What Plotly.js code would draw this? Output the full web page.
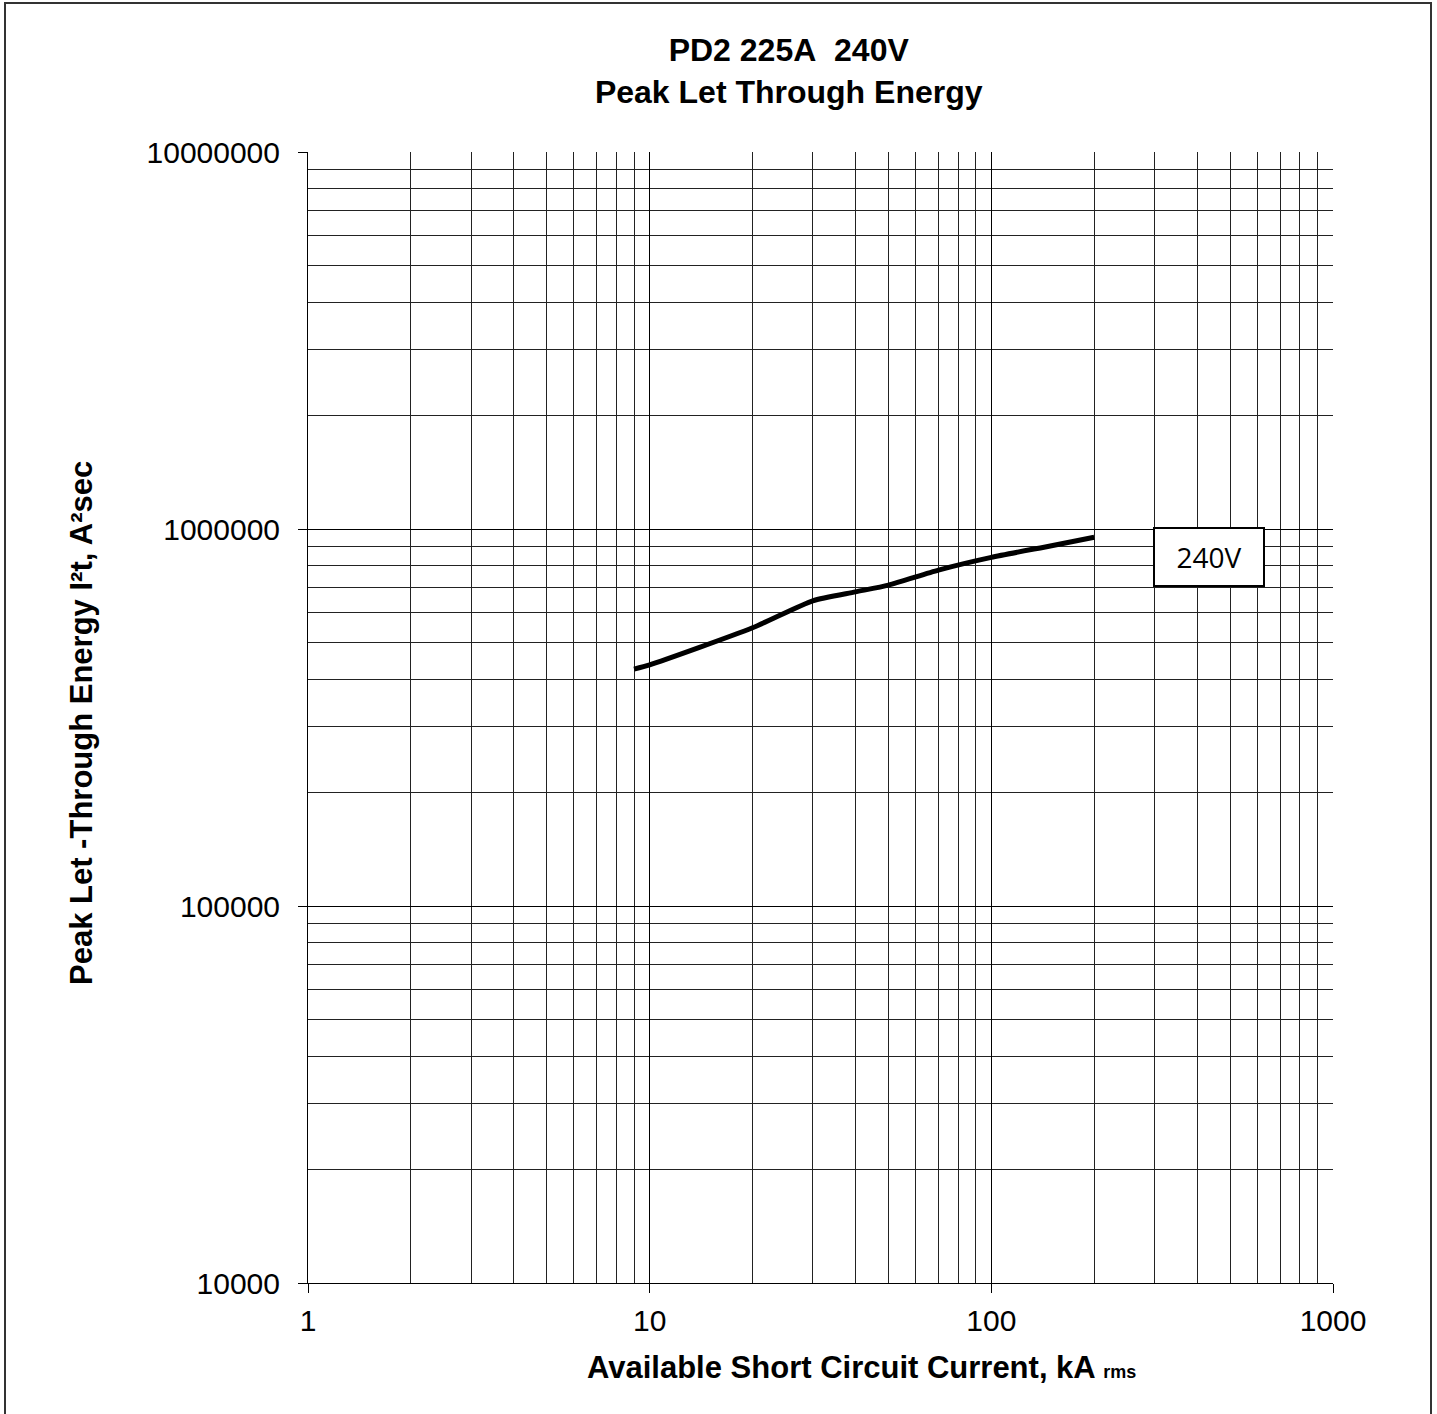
<!DOCTYPE html>
<html>
<head>
<meta charset="utf-8">
<script src="https://cdn.plot.ly/plotly-3.0.1.min.js"></script>
<style>html,body{margin:0;padding:0;background:#fff;}#chart{width:1437px;height:1414px;}</style>
</head>
<body>
<div id="chart"></div>
<script>
// Data
const currentKA = [9, 10, 20, 30, 40, 50, 70, 100, 150, 200];
const energyI2t = [425000, 436000, 547000, 645000, 681000, 710000, 778000, 841000, 903000, 951000];
const seriesName = '240V';

const xMajor = [1, 10, 100, 1000];
const xMajorText = ['1', '10', '100', '1000'];
const yMajor = [10000, 100000, 1000000, 10000000];
const yMajorText = ['10000', '100000', '1000000', '10000000'];
const minorMult = [2, 3, 4, 5, 6, 7, 8, 9];

const xMinor = [];
[1, 10, 100].forEach(d => minorMult.forEach(m => xMinor.push(d * m)));
const yMinor = [];
[10000, 100000, 1000000].forEach(d => minorMult.forEach(m => yMinor.push(d * m)));

const FONT = 'Liberation Sans, Arial, sans-serif';

const trace = {
  x: currentKA,
  y: energyI2t,
  type: 'scatter',
  mode: 'lines',
  name: seriesName,
  line: {color: '#000', width: 5, shape: 'spline', smoothing: 0.6},
  showlegend: false
};

const layout = {
  width: 1437,
  height: 1414,
  paper_bgcolor: '#fff',
  plot_bgcolor: '#fff',
  margin: {l: 308, r: 104, t: 152, b: 131, pad: 0},
  showlegend: false,
  font: {family: FONT, color: '#000'},
  title: {
    text: 'PD2 225A\u00a0\u00a0240V<br>Peak Let Through Energy',
    font: {family: FONT, size: 32, color: '#000', weight: 'bold'},
    xref: 'paper', x: 0.469, xanchor: 'center',
    yref: 'container', y: 1 - 61 / 1414, yanchor: 'top'
  },
  xaxis: {
    type: 'log',
    range: [0, 3],
    tickmode: 'array', tickvals: xMajor, ticktext: xMajorText,
    ticks: 'outside', ticklen: 9, tickwidth: 1, tickcolor: '#000',
    tickfont: {family: FONT, size: 30, color: '#000'},
    ticklabelstandoff: 2,
    showgrid: true, gridcolor: '#000', gridwidth: 1,
    minor: {tickmode: 'array', tickvals: xMinor, showgrid: true, gridcolor: '#222', gridwidth: 1, ticks: ''},
    showline: true, linecolor: '#000', linewidth: 1,
    zeroline: false
  },
  yaxis: {
    type: 'log',
    range: [4, 7],
    tickmode: 'array', tickvals: yMajor, ticktext: yMajorText,
    ticks: 'outside', ticklen: 9, tickwidth: 1, tickcolor: '#000',
    tickfont: {family: FONT, size: 30, color: '#000'},
    ticklabelstandoff: 12,
    showgrid: true, gridcolor: '#000', gridwidth: 1,
    minor: {tickmode: 'array', tickvals: yMinor, showgrid: true, gridcolor: '#222', gridwidth: 1, ticks: ''},
    showline: true, linecolor: '#000', linewidth: 1,
    zeroline: false
  },
  annotations: [{
    text: seriesName,
    xref: 'paper', yref: 'paper',
    x: (1209 - 308) / 1025, y: (1283 - 557) / 1131,
    xanchor: 'center', yanchor: 'middle',
    showarrow: false,
    width: 106, height: 54,
    bgcolor: '#fff',
    bordercolor: '#000', borderwidth: 2, borderpad: 1,
    font: {family: 'Open Sans, sans-serif', size: 28, color: '#000'}
  }, {
    text: '<b>Available Short Circuit Current, kA <span style="font-size:18px">rms</span></b>',
    xref: 'paper', yref: 'paper',
    x: (861 - 308) / 1025, y: (1283 - 1367) / 1131,
    xanchor: 'center', yanchor: 'middle',
    showarrow: false,
    font: {family: FONT, size: 31, color: '#000'}
  }, {
    text: '<b>Peak Let -Through Energy I²t, A²sec</b>',
    xref: 'paper', yref: 'paper',
    x: (82 - 308) / 1025, y: (1283 - 723) / 1131,
    xanchor: 'center', yanchor: 'middle',
    textangle: -90,
    showarrow: false,
    font: {family: FONT, size: 31, color: '#000'}
  }],
  shapes: [{
    type: 'rect', xref: 'paper', yref: 'paper',
    x0: (5 - 308) / 1025, x1: (1431 - 308) / 1025,
    y0: (1283 - 1430) / 1131, y1: (1283 - 3) / 1131,
    line: {color: '#333', width: 2},
    fillcolor: 'rgba(0,0,0,0)',
    layer: 'below'
  }]
};

Plotly.newPlot('chart', [trace], layout, {displayModeBar: false, staticPlot: true});
</script>
</body>
</html>
